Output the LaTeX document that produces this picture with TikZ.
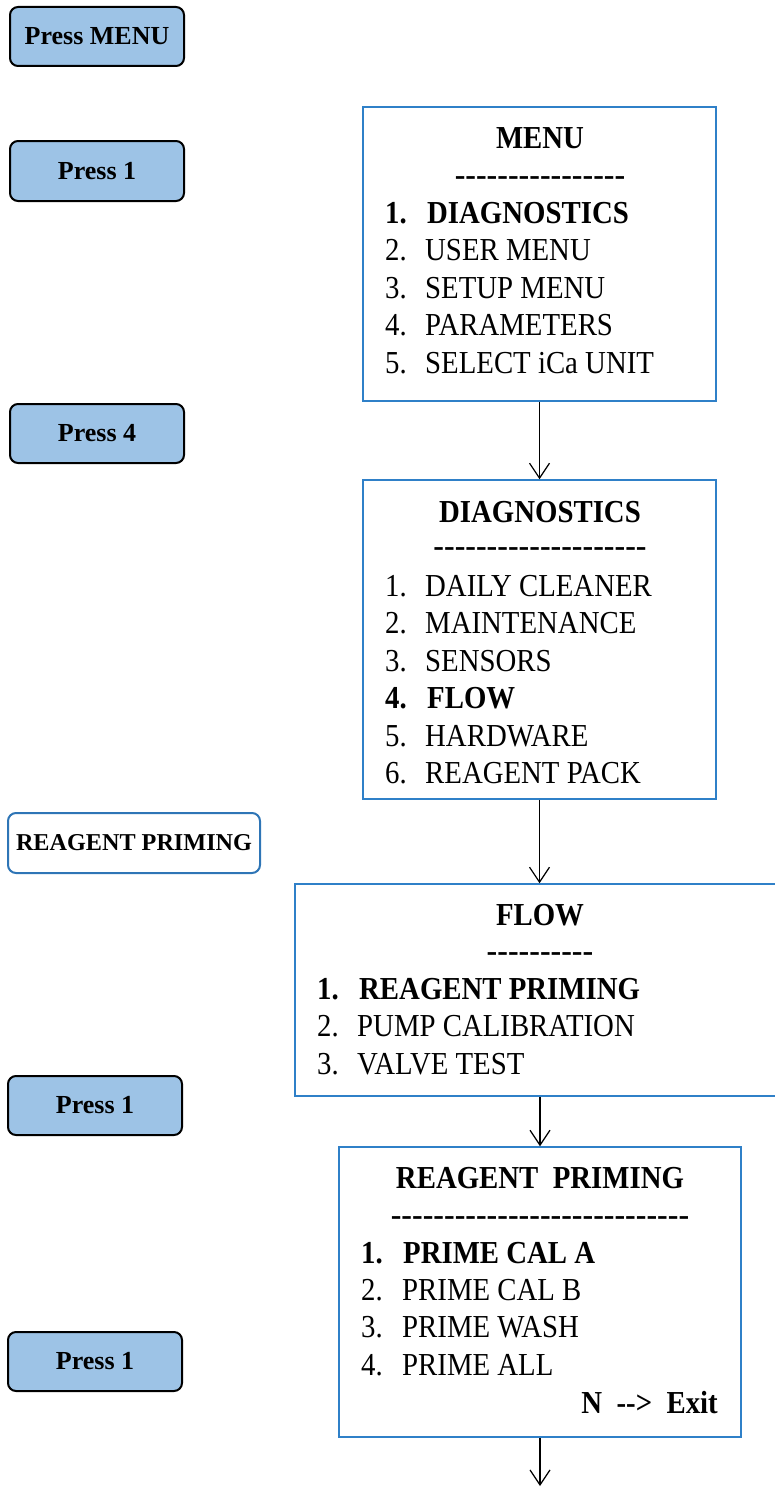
\documentclass[tikz,border=0pt]{standalone}
\usepackage{fontspec}
\setmainfont{Liberation Serif}
\newfontfamily\menufont{Liberation Serif}[FakeStretch=0.9]
\usetikzlibrary{arrows.meta}
\definecolor{keyfill}{RGB}{157,195,230}
\definecolor{keyblue}{RGB}{46,117,182}
\definecolor{boxblue}{RGB}{47,128,200}
\begin{document}
\begin{tikzpicture}[x=1pt,y=-1pt,
  keybtn/.style={draw=black, line width=2pt, fill=keyfill, rounded corners=8pt,
    minimum width=174pt, minimum height=59pt, inner sep=0pt,
    font=\fontsize{26}{30}\selectfont\bfseries},
  labelbtn/.style={draw=keyblue, line width=2pt, fill=white, rounded corners=8pt,
    minimum width=252pt, minimum height=60pt, inner sep=0pt,
    font=\fontsize{24.2}{28}\selectfont\bfseries},
  menubox/.style={draw=boxblue, line width=1.5pt, inner sep=0pt},
  title/.style={anchor=base, inner sep=0pt, font=\menufont\fontsize{32}{38}\selectfont\bfseries},
  rule/.style={anchor=base, inner sep=0pt, font=\fontsize{32}{38}\selectfont\bfseries},
  num/.style={anchor=base west, inner sep=0pt, font=\menufont\fontsize{32}{38}\selectfont},
  item/.style={anchor=base west, inner sep=0pt, font=\menufont\fontsize{32}{38}\selectfont},
  pick/.style={font=\menufont\fontsize{32}{38}\selectfont\bfseries},
  flowarrow/.style={draw=black, line width=1.2pt, -{Straight Barb[length=15pt,width=20pt]}}]
\useasboundingbox (0,0) rectangle (775,1488);

% key presses down the left side
\node[keybtn] (kmenu) at (97,36.5) {Press MENU};
\node[keybtn, minimum height=60pt] (kone) at (97,171) {Press 1};
\node[keybtn] (kfour) at (97,433.5) {Press 4};
\node[labelbtn] (lprime) at (134,843) {REAGENT PRIMING};
\node[keybtn] (kflow) at (95,1105.5) {Press 1};
\node[keybtn] (kcal) at (95,1361.5) {Press 1};

% MENU screen
\node[menubox, minimum width=353pt, minimum height=294pt] (menu) at (539.5,254) {};
\node[title] (menuT) at (540,148) {MENU};
\node[rule] (menuR) at (540,185) {-{}-{}-{}-{}-{}-{}-{}-{}-{}-{}-{}-{}-{}-{}-{}-};
\node[num, pick] (m1n) at (385,223) {1.};
\node[item, pick] (m1) at (427,223) {DIAGNOSTICS};
\node[num] (m2n) at (385,260.5) {2.};
\node[item] (m2) at (425,260.5) {USER MENU};
\node[num] (m3n) at (385,298) {3.};
\node[item] (m3) at (425,298) {SETUP MENU};
\node[num] (m4n) at (385,335.5) {4.};
\node[item] (m4) at (425,335.5) {PARAMETERS};
\node[num] (m5n) at (385,373) {5.};
\node[item] (m5) at (425,373) {SELECT iCa UNIT};

% DIAGNOSTICS screen
\node[menubox, minimum width=353pt, minimum height=319pt] (diag) at (539.5,639.5) {};
\node[title] (diagT) at (540,522) {DIAGNOSTICS};
\node[rule] (diagR) at (540,556) {-{}-{}-{}-{}-{}-{}-{}-{}-{}-{}-{}-{}-{}-{}-{}-{}-{}-{}-{}-};
\node[num] (d1n) at (385,596) {1.};
\node[item] (d1) at (425,596) {DAILY CLEANER};
\node[num] (d2n) at (385,633.5) {2.};
\node[item] (d2) at (425,633.5) {MAINTENANCE};
\node[num] (d3n) at (385,671) {3.};
\node[item] (d3) at (425,671) {SENSORS};
\node[num, pick] (d4n) at (385,708.5) {4.};
\node[item, pick] (d4) at (427,708.5) {FLOW};
\node[num] (d5n) at (385,746) {5.};
\node[item] (d5) at (425,746) {HARDWARE};
\node[num] (d6n) at (385,783.5) {6.};
\node[item] (d6) at (425,783.5) {REAGENT PACK};

% FLOW screen
\node[menubox, minimum width=484pt, minimum height=212pt] (flow) at (537,990) {};
\node[title] (flowT) at (540,925) {FLOW};
\node[rule] (flowR) at (540,961) {-{}-{}-{}-{}-{}-{}-{}-{}-{}-};
\node[num, pick] (f1n) at (317,999) {1.};
\node[item, pick] (f1) at (359,999) {REAGENT PRIMING};
\node[num] (f2n) at (317,1036.5) {2.};
\node[item] (f2) at (357,1036.5) {PUMP CALIBRATION};
\node[num] (f3n) at (317,1074) {3.};
\node[item] (f3) at (357,1074) {VALVE TEST};

% REAGENT PRIMING screen
\node[menubox, minimum width=402pt, minimum height=290pt] (prime) at (540,1292) {};
\node[title] (primeT) at (540,1188) {REAGENT\ \ PRIMING};
\node[rule] (primeR) at (540,1225) {-{}-{}-{}-{}-{}-{}-{}-{}-{}-{}-{}-{}-{}-{}-{}-{}-{}-{}-{}-{}-{}-{}-{}-{}-{}-{}-{}-};
\node[num, pick] (p1n) at (361,1263) {1.};
\node[item, pick] (p1) at (403,1263) {PRIME CAL A};
\node[num] (p2n) at (361,1300) {2.};
\node[item] (p2) at (402,1300) {PRIME CAL B};
\node[num] (p3n) at (361,1337.5) {3.};
\node[item] (p3) at (402,1337.5) {PRIME WASH};
\node[num] (p4n) at (361,1375) {4.};
\node[item] (p4) at (402,1375) {PRIME ALL};
\node[item, pick, anchor=base east] (pexit) at (718,1413) {N\ \ -{}->\ \ Exit};
\coordinate (next) at (540,1486);

% screen-to-screen connectors
\draw[flowarrow] (menu.south) -- (diag.north);
\draw[flowarrow] (diag.south) -- (diag.south |- flow.north);
\draw[flowarrow] (prime.north |- flow.south) -- (prime.north);
\draw[flowarrow] (prime.south) -- (next);
\end{tikzpicture}
\end{document}
